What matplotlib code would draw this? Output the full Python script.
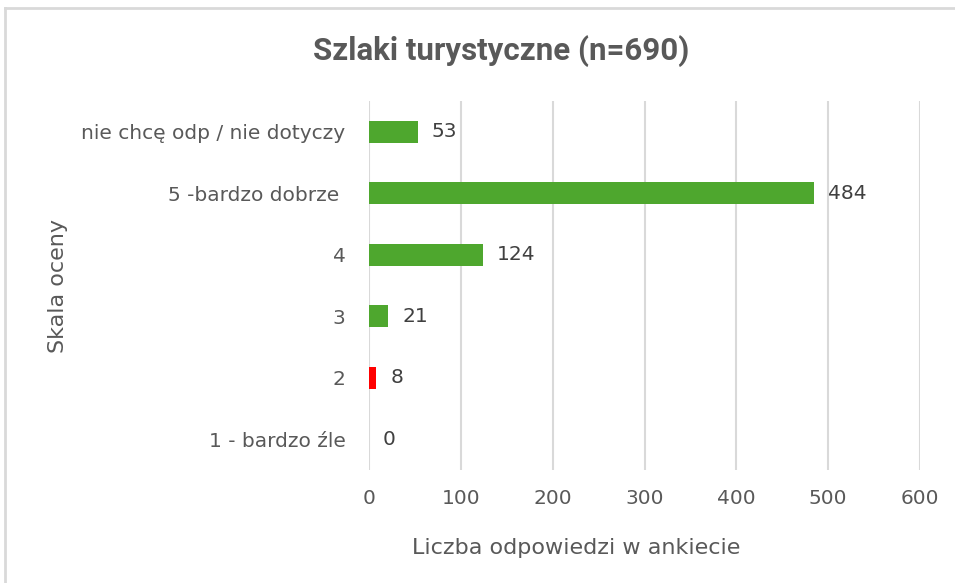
import matplotlib
matplotlib.use("Agg")
import matplotlib.pyplot as plt
from matplotlib.lines import Line2D

categories = ["1 - bardzo źle", "2", "3", "4", "5 -bardzo dobrze ", "nie chcę odp / nie dotyczy"]
values = [0, 8, 21, 124, 484, 53]
bar_colors = ["#4EA72E", "#FF0000", "#4EA72E", "#4EA72E", "#4EA72E", "#4EA72E"]
xticks = [0, 100, 200, 300, 400, 500, 600]

plt.rcParams['font.family'] = ['DejaVu Sans']
txt = "#595959"

fig = plt.figure(figsize=(9.55, 5.83), dpi=100)
ax = fig.add_axes([0.3864, 0.1938, 0.5770, 0.6330])

ypos = list(range(len(categories)))
ax.barh(ypos, values, height=0.36, color=bar_colors, zorder=3)
for y, v in zip(ypos, values):
    ax.annotate(str(v), (v, y), xytext=(14, 0), textcoords="offset pixels",
                va="center", ha="left", fontsize=14.5, color="#404040")

ax.set_xlim(0, 600)
ax.set_ylim(-0.5, len(categories) - 0.5)
ax.set_xticks(xticks)
ax.set_xticklabels([str(t) for t in xticks])
ax.set_yticks(ypos)
ax.set_yticklabels(categories)
ax.tick_params(axis="x", length=0, pad=14, labelsize=14.5, labelcolor=txt)
ax.tick_params(axis="y", length=0, pad=17, labelsize=14.5, labelcolor=txt)
ax.grid(axis="x", color="#D9D9D9", linewidth=1.5, zorder=0)
for s in ax.spines.values():
    s.set_visible(False)

fig.text(576.5/955, 1 - 548/583, "Liczba odpowiedzi w ankiecie", fontsize=16, color=txt,
         ha="center", va="center")
fig.text(58/955, 1 - 286/583, "Skala oceny", rotation=90, fontsize=16, color=txt,
         ha="center", va="center")
fig.text(0.525, 0.913, "Szlaki turystyczne (n=690)", fontsize=22.5, fontweight="bold",
         color="#595959", ha="center", va="center", family=["Roboto", "DejaVu Sans"])

fig.add_artist(Line2D([5/955, 5/955], [0, 1 - 8/583], transform=fig.transFigure, color="#D9D9D9", linewidth=2))
fig.add_artist(Line2D([5/955, 1], [1 - 8/583, 1 - 8/583], transform=fig.transFigure, color="#D9D9D9", linewidth=2))

fig.savefig("out.png", dpi=100)
